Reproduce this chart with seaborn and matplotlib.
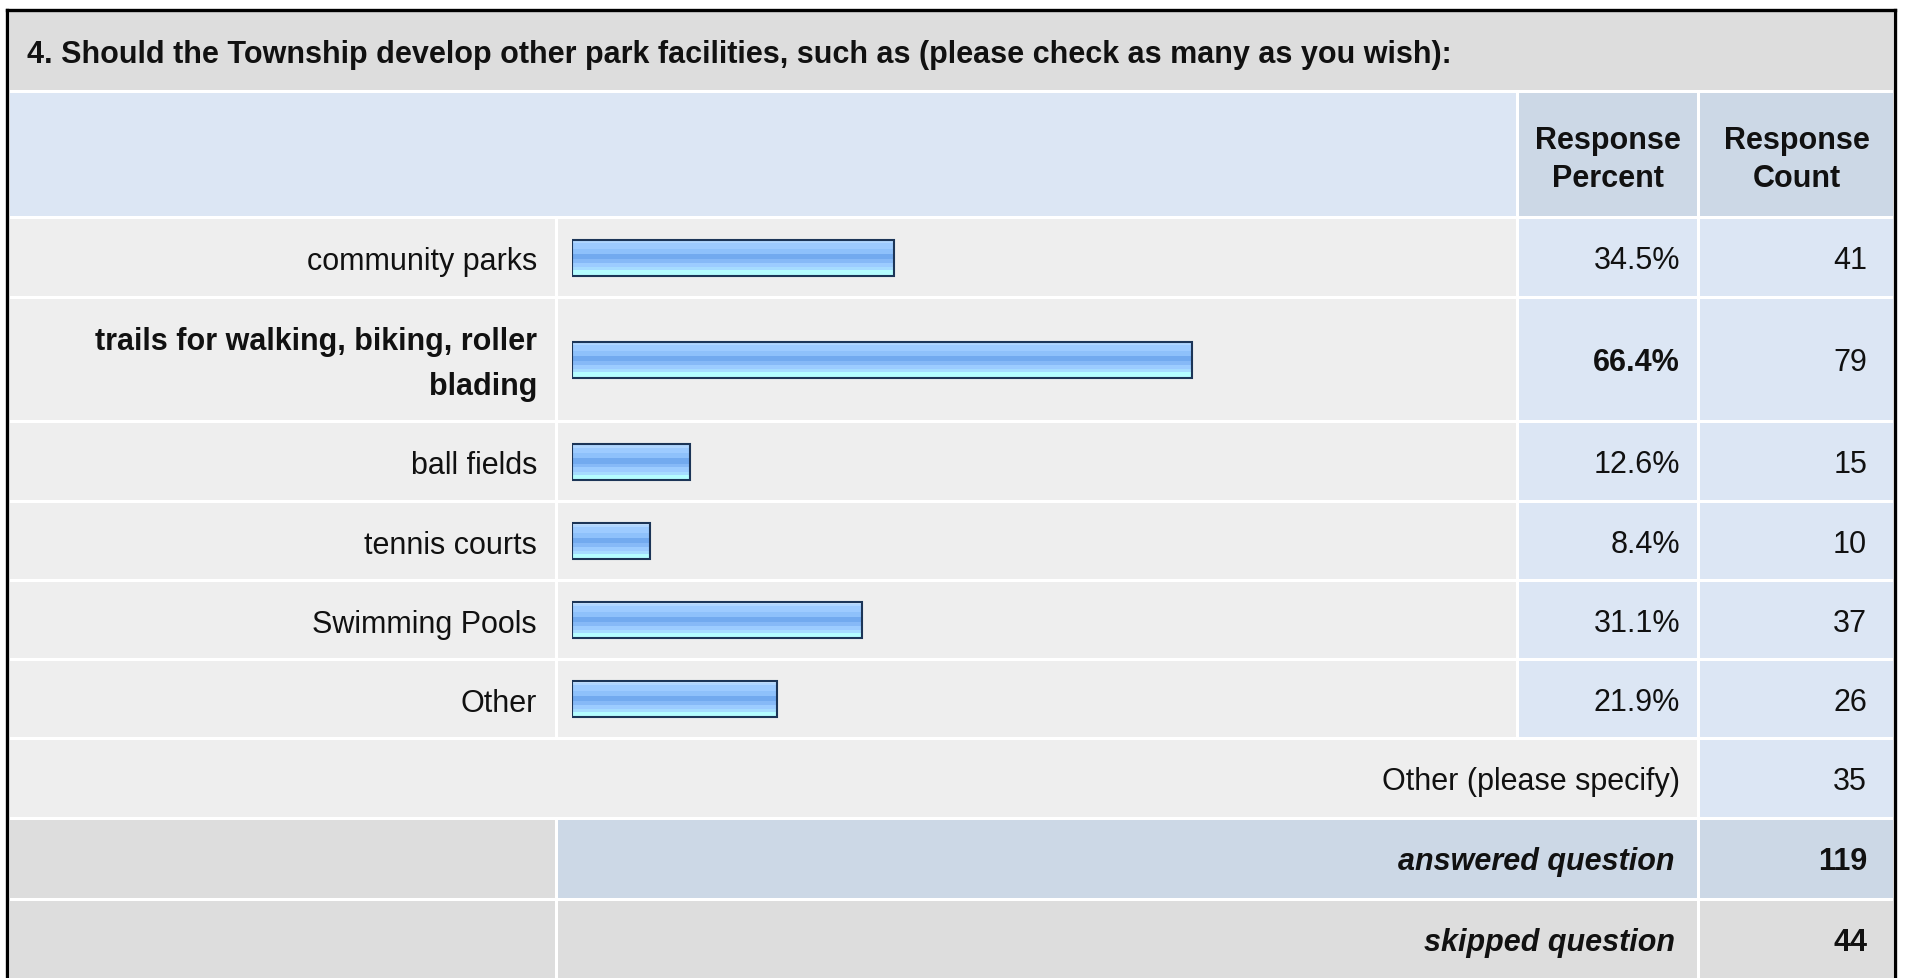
import numpy as np
import pandas as pd
import seaborn as sns
from matplotlib import pyplot as plt
from matplotlib.patches import Rectangle

# survey question 4 - park facilities
title = '4. Should the Township develop other park facilities, such as (please check as many as you wish):'
choices = ['community parks', 'trails for walking, biking, roller\nblading', 'ball fields',
           'tennis courts', 'Swimming Pools', 'Other']
percents = [34.5, 66.4, 12.6, 8.4, 31.1, 21.9]
counts = [41, 79, 15, 10, 37, 26]
col_heads = ['Response\nPercent', 'Response\nCount']
other_label = 'Other (please specify)'
other_count = 35
answered = 119
skipped = 44

# page layout in pixels
W, H = 1907, 979
row_top = [220, 300, 424, 504, 583, 662]
row_bot = [297, 421, 501, 580, 659, 738]
L0, L1 = 10, 555        # label column
B0, B1 = 558, 1516      # bar column
P0, P1 = 1519, 1697     # percent column
K0, K1 = 1700, 1893     # count column
BAR_X0, BAR_X1 = 572, 1506   # 0% .. 100%

GRAY = '#eeeeee'
DARK = '#dddddd'
BLUE = '#dce6f4'
BLUE2 = '#ccd8e6'
INK = '#111111'

sns.set_theme(style='white')
plt.rcParams['font.family'] = ['Liberation Sans', 'DejaVu Sans']
FS = 22

fig = plt.figure(figsize=(W / 100, H / 100), dpi=100)
fig.patch.set_facecolor('white')
ax = fig.add_axes([0, 0, 1, 1])
ax.set_xlim(0, W)
ax.set_ylim(H, 0)
ax.axis('off')


def cell(x0, x1, y0, y1, c):
    ax.add_patch(Rectangle((x0, y0), x1 - x0, y1 - y0, facecolor=c, edgecolor='none', zorder=1))


# title + header
cell(L0, K1, 12, 91, DARK)
ax.text(27, 55, title, fontsize=FS, weight='bold', va='center', color=INK)
cell(L0, B1, 94, 217, BLUE)
cell(P0, P1, 94, 217, BLUE2)
cell(K0, K1, 94, 217, BLUE2)
for (a, b), head in zip([(P0, P1), (K0, K1)], col_heads):
    ax.text((a + b) / 2, 160, head, fontsize=FS, weight='bold', ha='center', va='center',
            linespacing=1.38, color=INK)

# answer rows
top = int(np.argmax(percents))
for i, (lab, p, n) in enumerate(zip(choices, percents, counts)):
    y0, y1 = row_top[i], row_bot[i]
    yc = (y0 + y1) / 2 + 3
    cell(L0, L1, y0, y1, GRAY)
    cell(B0, B1, y0, y1, GRAY)
    cell(P0, P1, y0, y1, BLUE)
    cell(K0, K1, y0, y1, BLUE)
    wt = 'bold' if i == top else 'normal'
    ax.text(537, yc + 1, lab, fontsize=FS, weight=wt, ha='right', va='center',
            multialignment='right', linespacing=1.62, color=INK)
    ax.text(1680, yc, f'{p:.1f}%', fontsize=FS, weight=wt, ha='right', va='center', color=INK)
    ax.text(1867, yc, str(n), fontsize=FS, ha='right', va='center', color=INK)

# footer rows
cell(L0, P1, 741, 818, GRAY)
cell(K0, K1, 741, 818, BLUE)
ax.text(1680, 782, other_label, fontsize=FS, ha='right', va='center', color=INK)
ax.text(1867, 782, str(other_count), fontsize=FS, ha='right', va='center', color=INK)

cell(L0, L1, 821, 899, DARK)
cell(B0, P1, 821, 899, BLUE2)
cell(K0, K1, 821, 899, BLUE2)
ax.text(1675, 862, 'answered question', fontsize=FS, weight='bold', style='italic',
        ha='right', va='center', color=INK)
ax.text(1867, 862, str(answered), fontsize=FS, weight='bold', ha='right', va='center', color=INK)

cell(L0, L1, 902, H + 5, DARK)
cell(B0, P1, 902, H + 5, DARK)
cell(K0, K1, 902, H + 5, DARK)
ax.text(1675, 943, 'skipped question', fontsize=FS, weight='bold', style='italic',
        ha='right', va='center', color=INK)
ax.text(1867, 943, str(skipped), fontsize=FS, weight='bold', ha='right', va='center', color=INK)

# outer frame
ax.plot([7, 7], [H + 5, 10.5], color='black', lw=2.4, zorder=5, solid_capstyle='projecting')
ax.plot([7, 1895], [10.5, 10.5], color='black', lw=2.4, zorder=5, solid_capstyle='projecting')
ax.plot([1895, 1895], [10.5, H + 5], color='black', lw=2.4, zorder=5, solid_capstyle='projecting')

# bars
centers = [(a + b) / 2 for a, b in zip(row_top, row_bot)]
df = pd.DataFrame({'pct': percents, 'y': centers})
bax = fig.add_axes([BAR_X0 / W, 0, (BAR_X1 - BAR_X0) / W, 1])
bax.patch.set_alpha(0)
gap = np.min(np.diff(centers))
sns.barplot(data=df, x='pct', y='y', orient='y', native_scale=True, width=36 / gap,
            color='#8ec1fb', edgecolor='#1c3557', linewidth=1.5, errorbar=None, ax=bax)
bax.set_xlim(0, 100)
bax.set_ylim(H, 0)
bax.axis('off')

# striped glossy fill, top to bottom
stripes = ['#c6e2ff', '#b0d6ff', '#9dcbff', '#8ec1fb', '#72aaef', '#86b9f7', '#9cccff', '#a6dcff', '#b4fdff']
reps = [2, 2, 5, 4, 5, 3, 4, 3, 4]
grad = np.array([plt.matplotlib.colors.to_rgb(c) for c in np.repeat(stripes, reps)])[:, None, :]
for patch in bax.patches:
    x, y = patch.get_x(), patch.get_y()
    w, h = patch.get_width(), patch.get_height()
    bax.imshow(grad, extent=[x, x + w, y + h, y], aspect='auto', interpolation='nearest', zorder=2)
    patch.set_facecolor('none')
    patch.set_zorder(3)
bax.set_xlim(0, 100)
bax.set_ylim(H, 0)

fig.savefig('out.png', dpi=100)
